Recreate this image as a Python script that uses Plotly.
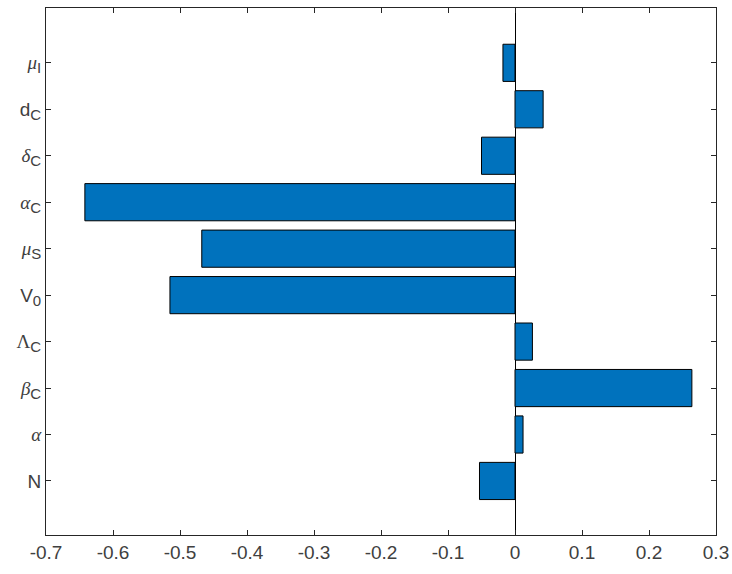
import plotly.graph_objects as go

SERIF = "font-family:'Liberation Serif', 'Times New Roman', serif"


def greek(ch):
    return f"<span style=\"{SERIF}\"><i>{ch}</i></span>"


def sub(s):
    return f"<sub><span style=\"font-size:15px\">{s}</span></sub>"


# Parameters from bottom (N) to top (mu_I)
params = [
    "N",
    greek("α"),
    greek("β") + sub("C"),
    f"<span style=\"{SERIF}\">Λ</span>" + sub("C"),
    "V" + sub("0"),
    greek("μ") + sub("S"),
    greek("α") + sub("C"),
    greek("δ") + sub("C"),
    "d" + sub("C"),
    greek("μ") + sub("I"),
]
sensitivity = [-0.053, 0.012, 0.264, 0.026, -0.515, -0.4675, -0.642, -0.050, 0.042, -0.018]
positions = list(range(1, len(params) + 1))
x_ticks = [-0.7, -0.6, -0.5, -0.4, -0.3, -0.2, -0.1, 0, 0.1, 0.2, 0.3]
x_tick_text = ["-0.7", "-0.6", "-0.5", "-0.4", "-0.3", "-0.2", "-0.1", "0", "0.1", "0.2", "0.3"]

axis_color = "#262626"
label_font = dict(family="Liberation Sans, Arial, sans-serif", size=19, color="#404040")

fig = go.Figure(
    go.Bar(
        x=sensitivity,
        y=positions,
        orientation="h",
        width=0.8,
        marker=dict(color="#0072BD", line=dict(color="#000000", width=1)),
    )
)

fig.update_layout(
    width=732,
    height=574,
    margin=dict(l=46, r=16, t=8, b=39),
    paper_bgcolor="white",
    plot_bgcolor="white",
    showlegend=False,
)

fig.update_xaxes(
    range=[-0.7, 0.3],
    tickvals=x_ticks,
    ticktext=x_tick_text,
    ticks="inside",
    ticklen=5,
    tickcolor=axis_color,
    showline=True,
    linecolor=axis_color,
    linewidth=1,
    mirror="ticks",
    showgrid=False,
    zeroline=True,
    zerolinecolor="#000000",
    zerolinewidth=1,
    tickfont=label_font,
    automargin=False,
)

fig.update_yaxes(
    range=[-0.163, 11.18],
    tickvals=positions,
    ticktext=params,
    ticks="inside",
    ticklen=5,
    tickcolor=axis_color,
    showline=True,
    linecolor=axis_color,
    linewidth=1,
    mirror="ticks",
    showgrid=False,
    zeroline=False,
    tickfont=label_font,
    automargin=False,
)

fig.write_html("out.html")
